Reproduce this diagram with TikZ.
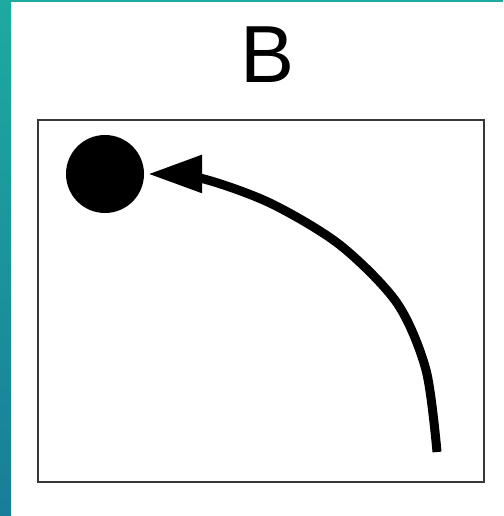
\documentclass[tikz,border=0pt]{standalone}
\usepackage{fontspec}
\setmainfont{Liberation Sans}
\usepackage{tikz}
\usetikzlibrary{arrows.meta,positioning}
\definecolor{stripteal}{RGB}{30,170,160}
\definecolor{stripblue}{RGB}{24,126,152}
\definecolor{framegray}{RGB}{55,55,55}

\begin{document}
\begin{tikzpicture}[
  x=1pt,y=-1pt,
  title/.style={font=\fontsize{81}{81}\selectfont,inner sep=0pt,anchor=base},
  frame/.style={draw=framegray,line width=2.2pt},
  ball/.style={circle,fill=black,inner sep=0pt,minimum size=78pt},
  arrow/.style={-{Triangle[length=54pt,width=36pt]},line width=9pt,line join=round}
]
\useasboundingbox (0,0) rectangle (503,516);
\fill[white] (0,0) rectangle (503,516);
% side strip
\shade[top color=stripteal,bottom color=stripblue] (0,0) rectangle (11,516);
\fill[stripteal] (0,0) rectangle (503,2);
\node[title] (label) at (268,83) {B};
\draw[frame] (38,120) rectangle (484,482);
\node[ball] (ball) at (105,174) {};
\coordinate (start) at (437,452);
\coordinate (tip) at ([xshift=4pt]ball.east);
\draw[arrow] plot[smooth] coordinates {(start) (426,370) (397,303)
  (340,245) (270,203) (200,178) (tip)};
\end{tikzpicture}
\end{document}
